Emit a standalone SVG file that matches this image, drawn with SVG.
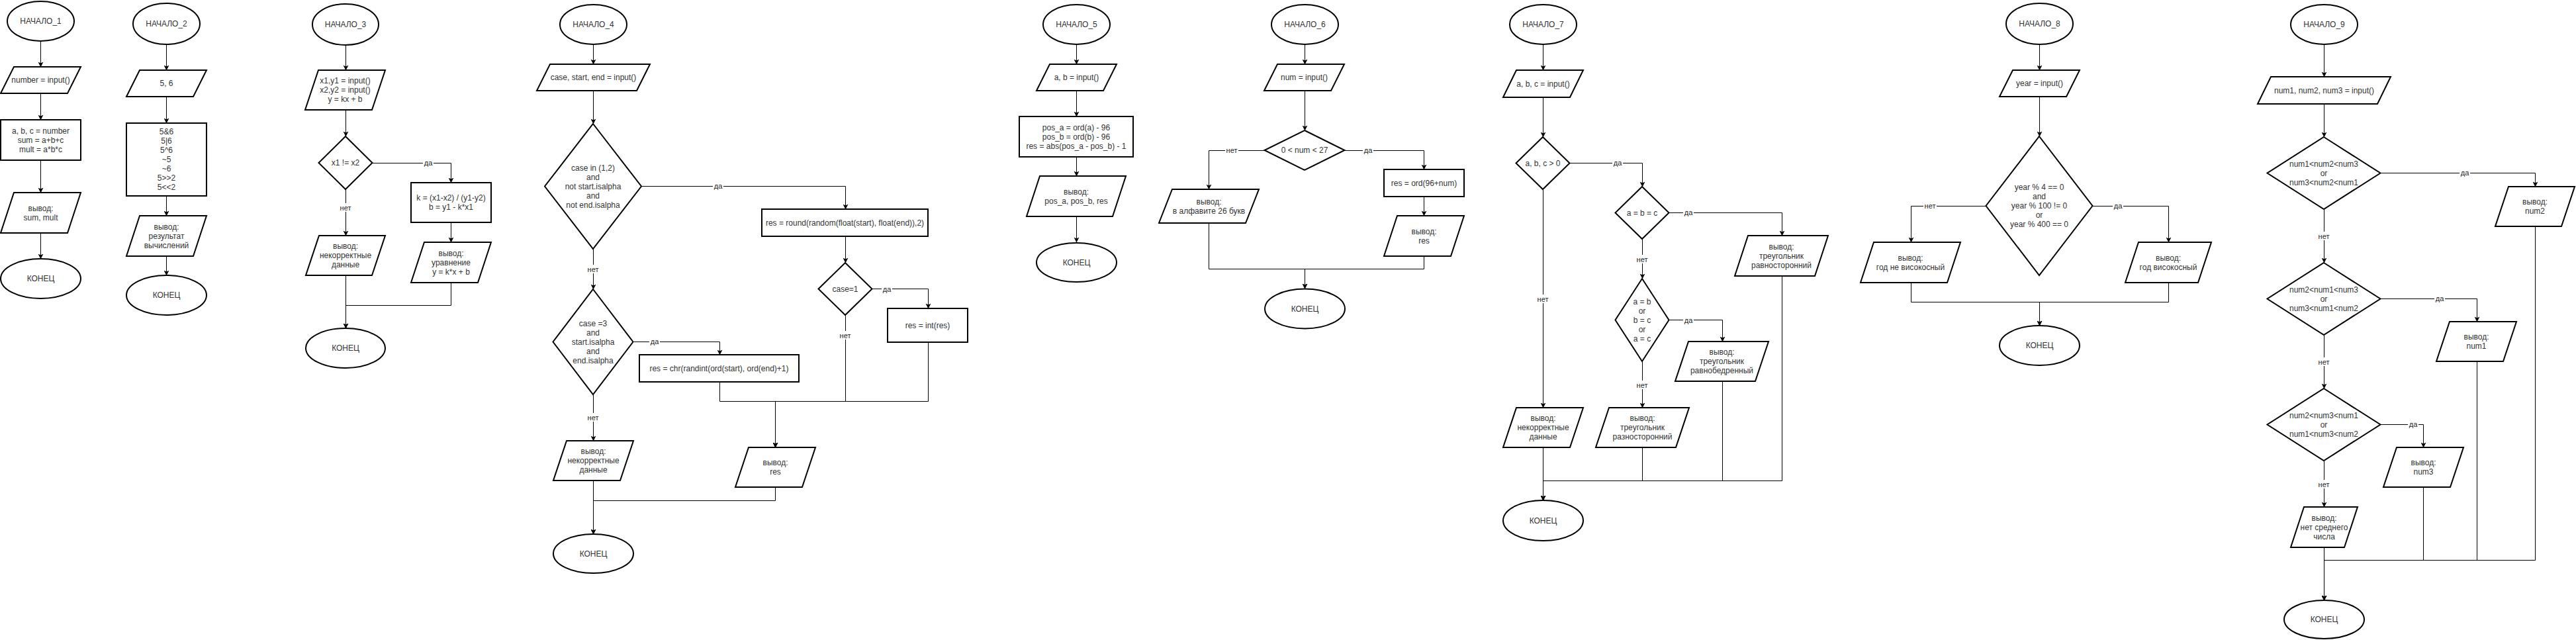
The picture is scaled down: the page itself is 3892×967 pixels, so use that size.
<svg xmlns="http://www.w3.org/2000/svg" width="3892" height="967" viewBox="0 0 3892 967">
<defs>
<style>
.s{fill:#fff;stroke:#000;stroke-width:2}
.t{font-family:"Liberation Sans",Arial,Helvetica,sans-serif;font-size:12px;fill:#333;text-anchor:middle}
.e{fill:none;stroke:#000;stroke-width:1;marker-end:url(#a)}
.bg{fill:#fff}
.lt{font-family:"Liberation Sans",Arial,Helvetica,sans-serif;font-size:11px;fill:#222;text-anchor:middle}
</style>
<marker id="a" viewBox="0 0 10 10" refX="10" refY="5" markerWidth="8" markerHeight="8" markerUnits="userSpaceOnUse" orient="auto"><path d="M0,0 L10,5 L0,10 L2.5,5 Z" fill="#000"/></marker>
</defs>
<rect width="3892" height="967" fill="#fff"/>

<g id="connectors">
<g transform="translate(0.5,0.5)">
<path class="e" d="M61,62V101"/><path class="e" d="M61,141V181"/><path class="e" d="M61,242V291"/><path class="e" d="M61,352V391"/>
<path class="e" d="M251,67V106"/><path class="e" d="M251,146V186"/><path class="e" d="M251,296V326"/><path class="e" d="M251,387V416"/>
<path class="e" d="M522,68V106"/><path class="e" d="M522,166V206"/><path class="e" d="M562,246H681V276"/><path class="e" d="M681,336V366"/><path class="e" d="M522,286V356"/><path class="e" d="M681,427V461H522V496"/><path class="e" d="M522,416V496"/>
<path class="e" d="M896,67V97"/><path class="e" d="M896,137V187"/><path class="e" d="M969,281H1277V316"/><path class="e" d="M1277,357V397"/><path class="e" d="M1317,436H1402V466"/><path class="e" d="M1277,476V606H1171V676"/><path class="e" d="M1402,517V606H1171V676"/><path class="e" d="M1087,577V606H1171V676"/><path class="e" d="M896,376V437"/><path class="e" d="M957,516H1087V536"/><path class="e" d="M896,596V666"/><path class="e" d="M1171,736V756H896V807"/><path class="e" d="M896,726V807"/>
<path class="e" d="M1626,67V97"/><path class="e" d="M1626,137V176"/><path class="e" d="M1626,237V266"/><path class="e" d="M1626,327V366"/>
<path class="e" d="M1971,67V97"/><path class="e" d="M1971,137V197"/><path class="e" d="M1910,227H1826V286"/><path class="e" d="M2031,227H2151V256"/><path class="e" d="M2151,297V326"/><path class="e" d="M1826,337V406H1971V436"/><path class="e" d="M2151,387V406H1971V436"/>
<path class="e" d="M2331,67V106"/><path class="e" d="M2331,147V207"/><path class="e" d="M2371,246H2481V282"/><path class="e" d="M2521,321H2692V356"/><path class="e" d="M2481,361V421"/><path class="e" d="M2521,483H2602V516"/><path class="e" d="M2481,546V616"/><path class="e" d="M2331,286V616"/><path class="e" d="M2481,676V726H2331V756"/><path class="e" d="M2602,576V726H2331V756"/><path class="e" d="M2692,417V726H2331V756"/><path class="e" d="M2331,676V756"/>
<path class="e" d="M3081,67V106"/><path class="e" d="M3081,146V206"/><path class="e" d="M3000,311H2887V366"/><path class="e" d="M3161,311H3276V366"/><path class="e" d="M2887,427V456H3081V492"/><path class="e" d="M3276,427V456H3081V492"/>
<path class="e" d="M3511,67V116"/><path class="e" d="M3511,157V207"/><path class="e" d="M3596,261H3830V282"/><path class="e" d="M3511,316V397"/><path class="e" d="M3596,451H3742V486"/><path class="e" d="M3511,506V587"/><path class="e" d="M3596,641H3661V676"/><path class="e" d="M3511,696V766"/><path class="e" d="M3661,736V846H3511V907"/><path class="e" d="M3742,546V846H3511V907"/><path class="e" d="M3830,342V846H3511V907"/><path class="e" d="M3511,827V907"/>
</g>
<g id="labels">
<rect class="bg" x="639" y="239" width="16" height="13"/><text class="lt" x="647" y="250">да</text>
<rect class="bg" x="512" y="307" width="20" height="13"/><text class="lt" x="522" y="318">нет</text>
<rect class="bg" x="1077" y="274" width="16" height="13"/><text class="lt" x="1085" y="285">да</text>
<rect class="bg" x="1332" y="430" width="16" height="13"/><text class="lt" x="1340" y="441">да</text>
<rect class="bg" x="1267" y="500" width="20" height="13"/><text class="lt" x="1277" y="511">нет</text>
<rect class="bg" x="886" y="400" width="20" height="13"/><text class="lt" x="896" y="411">нет</text>
<rect class="bg" x="981" y="509" width="16" height="13"/><text class="lt" x="989" y="520">да</text>
<rect class="bg" x="886" y="624" width="20" height="13"/><text class="lt" x="896" y="635">нет</text>
<rect class="bg" x="1851" y="220" width="20" height="13"/><text class="lt" x="1861" y="231">нет</text>
<rect class="bg" x="2059" y="220" width="16" height="13"/><text class="lt" x="2067" y="231">да</text>
<rect class="bg" x="2436" y="239" width="16" height="13"/><text class="lt" x="2444" y="250">да</text>
<rect class="bg" x="2543" y="314" width="16" height="13"/><text class="lt" x="2551" y="325">да</text>
<rect class="bg" x="2471" y="385" width="20" height="13"/><text class="lt" x="2481" y="396">нет</text>
<rect class="bg" x="2543" y="477" width="16" height="13"/><text class="lt" x="2551" y="488">да</text>
<rect class="bg" x="2471" y="575" width="20" height="13"/><text class="lt" x="2481" y="586">нет</text>
<rect class="bg" x="2321" y="445" width="20" height="13"/><text class="lt" x="2331" y="456">нет</text>
<rect class="bg" x="2906" y="304" width="20" height="13"/><text class="lt" x="2916" y="315">нет</text>
<rect class="bg" x="3192" y="304" width="16" height="13"/><text class="lt" x="3200" y="315">да</text>
<rect class="bg" x="3716" y="254" width="16" height="13"/><text class="lt" x="3724" y="265">да</text>
<rect class="bg" x="3501" y="350" width="20" height="13"/><text class="lt" x="3511" y="361">нет</text>
<rect class="bg" x="3678" y="444" width="16" height="13"/><text class="lt" x="3686" y="455">да</text>
<rect class="bg" x="3501" y="540" width="20" height="13"/><text class="lt" x="3511" y="551">нет</text>
<rect class="bg" x="3638" y="634" width="16" height="13"/><text class="lt" x="3646" y="645">да</text>
<rect class="bg" x="3501" y="725" width="20" height="13"/><text class="lt" x="3511" y="736">нет</text>
</g>
</g>

<!-- Flowchart 1 -->
<g id="f1_start"><ellipse class="s" cx="61.5" cy="32" rx="50.5" ry="30"/><text class="t" x="61.5" y="36">НАЧАЛО_1</text></g>
<g id="f1_input"><polygon class="s" points="21,101 122,101 102,141 1,141"/><text class="t" x="61.5" y="125">number = input()</text></g>
<g id="f1_calc"><rect class="s" x="1" y="181" width="121" height="61"/><text class="t" x="61.5" y="201.5"><tspan x="61.5">a, b, c = number</tspan><tspan x="61.5" dy="14">sum = a+b+c</tspan><tspan x="61.5" dy="14">mult = a*b*c</tspan></text></g>
<g id="f1_output"><polygon class="s" points="21,291 122,291 102,352 1,352"/><text class="t" x="61.5" y="318.5"><tspan x="61.5">вывод:</tspan><tspan x="61.5" dy="14">sum, mult</tspan></text></g>
<g id="f1_end"><ellipse class="s" cx="61.5" cy="421" rx="60.5" ry="30"/><text class="t" x="61.5" y="425">КОНЕЦ</text></g>

<!-- Flowchart 2 -->
<g id="f2_start"><ellipse class="s" cx="251.5" cy="36" rx="50.5" ry="31"/><text class="t" x="251.5" y="40">НАЧАЛО_2</text></g>
<g id="f2_input"><polygon class="s" points="211,106 312,106 292,146 191,146"/><text class="t" x="251.5" y="130">5, 6</text></g>
<g id="f2_calc"><rect class="s" x="191" y="186" width="121" height="110"/><text class="t" x="251.5" y="203"><tspan x="251.5">5&amp;6</tspan><tspan x="251.5" dy="14">5|6</tspan><tspan x="251.5" dy="14">5^6</tspan><tspan x="251.5" dy="14">~5</tspan><tspan x="251.5" dy="14">~6</tspan><tspan x="251.5" dy="14">5&gt;&gt;2</tspan><tspan x="251.5" dy="14">5&lt;&lt;2</tspan></text></g>
<g id="f2_output"><polygon class="s" points="211,326 312,326 292,387 191,387"/><text class="t" x="251.5" y="346.5"><tspan x="251.5">вывод:</tspan><tspan x="251.5" dy="14">результат</tspan><tspan x="251.5" dy="14">вычислений</tspan></text></g>
<g id="f2_end"><ellipse class="s" cx="251.5" cy="446" rx="60.5" ry="30"/><text class="t" x="251.5" y="450">КОНЕЦ</text></g>

<!-- Flowchart 3 -->
<g id="f3_start"><ellipse class="s" cx="522" cy="37" rx="50" ry="31"/><text class="t" x="522" y="41">НАЧАЛО_3</text></g>
<g id="f3_input"><polygon class="s" points="481,106 582,106 562,166 461,166"/><text class="t" x="521.5" y="126"><tspan x="521.5">x1,y1 = input()</tspan><tspan x="521.5" dy="14">x2,y2 = input()</tspan><tspan x="521.5" dy="14">y = kx + b</tspan></text></g>
<g id="f3_check"><polygon class="s" points="522,206 562.5,246 522,286 481.5,246"/><text class="t" x="522" y="250">x1 != x2</text></g>
<g id="f3_calc"><rect class="s" x="621" y="276" width="121" height="60"/><text class="t" x="681.5" y="303"><tspan x="681.5">k = (x1-x2) / (y1-y2)</tspan><tspan x="681.5" dy="14">b = y1 - k*x1</tspan></text></g>
<g id="f3_out_eq"><polygon class="s" points="641,366 742,366 722,427 621,427"/><text class="t" x="681.5" y="386.5"><tspan x="681.5">вывод:</tspan><tspan x="681.5" dy="14">уравнение</tspan><tspan x="681.5" dy="14">y = k*x + b</tspan></text></g>
<g id="f3_out_bad"><polygon class="s" points="482,356 582,356 562,416 462,416"/><text class="t" x="522" y="376"><tspan x="522">вывод:</tspan><tspan x="522" dy="14">некорректные</tspan><tspan x="522" dy="14">данные</tspan></text></g>
<g id="f3_end"><ellipse class="s" cx="522" cy="526" rx="60" ry="30"/><text class="t" x="522" y="530">КОНЕЦ</text></g>

<!-- Flowchart 4 -->
<g id="f4_start"><ellipse class="s" cx="896.5" cy="37" rx="50.5" ry="30"/><text class="t" x="896.5" y="41">НАЧАЛО_4</text></g>
<g id="f4_input"><polygon class="s" points="831,97 982,97 962,137 811,137"/><text class="t" x="896.5" y="121">case, start, end = input()</text></g>
<g id="f4_check1"><polygon class="s" points="896,187 969,281.5 896,376 823,281.5"/><text class="t" x="896" y="257.5"><tspan x="896">case in (1,2)</tspan><tspan x="896" dy="14">and</tspan><tspan x="896" dy="14">not start.isalpha</tspan><tspan x="896" dy="14">and</tspan><tspan x="896" dy="14">not end.isalpha</tspan></text></g>
<g id="f4_round"><rect class="s" x="1151" y="316" width="251" height="41"/><text class="t" x="1276.5" y="340.5">res = round(random(float(start), float(end)),2)</text></g>
<g id="f4_case1"><polygon class="s" points="1277,397 1317.5,436.5 1277,476 1236.5,436.5"/><text class="t" x="1277" y="440.5">case=1</text></g>
<g id="f4_int"><rect class="s" x="1341" y="466" width="121" height="51"/><text class="t" x="1401.5" y="495.5">res = int(res)</text></g>
<g id="f4_check2"><polygon class="s" points="896,437 956.5,516.5 896,596 835.5,516.5"/><text class="t" x="896" y="492.5"><tspan x="896">case =3</tspan><tspan x="896" dy="14">and</tspan><tspan x="896" dy="14">start.isalpha</tspan><tspan x="896" dy="14">and</tspan><tspan x="896" dy="14">end.isalpha</tspan></text></g>
<g id="f4_chr"><rect class="s" x="966" y="536" width="241" height="41"/><text class="t" x="1086.5" y="560.5">res = chr(randint(ord(start), ord(end)+1)</text></g>
<g id="f4_out_res"><polygon class="s" points="1131,676 1232,676 1212,736 1111,736"/><text class="t" x="1171.5" y="703"><tspan x="1171.5">вывод:</tspan><tspan x="1171.5" dy="14">res</tspan></text></g>
<g id="f4_out_bad"><polygon class="s" points="856,666 957,666 937,726 836,726"/><text class="t" x="896.5" y="686"><tspan x="896.5">вывод:</tspan><tspan x="896.5" dy="14">некорректные</tspan><tspan x="896.5" dy="14">данные</tspan></text></g>
<g id="f4_end"><ellipse class="s" cx="896.5" cy="836.5" rx="60.5" ry="29.5"/><text class="t" x="896.5" y="840.5">КОНЕЦ</text></g>

<!-- Flowchart 5 -->
<g id="f5_start"><ellipse class="s" cx="1626.5" cy="37" rx="50.5" ry="30"/><text class="t" x="1626.5" y="41">НАЧАЛО_5</text></g>
<g id="f5_input"><polygon class="s" points="1586,97 1687,97 1667,137 1566,137"/><text class="t" x="1626.5" y="121">a, b = input()</text></g>
<g id="f5_calc"><rect class="s" x="1540" y="176" width="172" height="61"/><text class="t" x="1626" y="196.5"><tspan x="1626">pos_a = ord(a) - 96</tspan><tspan x="1626" dy="14">pos_b = ord(b) - 96</tspan><tspan x="1626" dy="14">res = abs(pos_a - pos_b) - 1</tspan></text></g>
<g id="f5_output"><polygon class="s" points="1571,266 1701,266 1681,327 1551,327"/><text class="t" x="1626" y="293.5"><tspan x="1626">вывод:</tspan><tspan x="1626" dy="14">pos_a, pos_b, res</tspan></text></g>
<g id="f5_end"><ellipse class="s" cx="1626.5" cy="396.5" rx="60.5" ry="29.5"/><text class="t" x="1626.5" y="400.5">КОНЕЦ</text></g>

<!-- Flowchart 6 -->
<g id="f6_start"><ellipse class="s" cx="1971.5" cy="37" rx="50.5" ry="30"/><text class="t" x="1971.5" y="41">НАЧАЛО_6</text></g>
<g id="f6_input"><polygon class="s" points="1930,97 2031,97 2011,137 1910,137"/><text class="t" x="1970.5" y="121">num = input()</text></g>
<g id="f6_check"><polygon class="s" points="1971,197 2031.5,227 1971,257 1910.5,227"/><text class="t" x="1971" y="231">0 &lt; num &lt; 27</text></g>
<g id="f6_out_bad"><polygon class="s" points="1771,286 1902,286 1882,337 1751,337"/><text class="t" x="1826.5" y="308.5"><tspan x="1826.5">вывод:</tspan><tspan x="1826.5" dy="14">в алфавите 26 букв</tspan></text></g>
<g id="f6_calc"><rect class="s" x="2091" y="256" width="121" height="41"/><text class="t" x="2151.5" y="280.5">res = ord(96+num)</text></g>
<g id="f6_out_res"><polygon class="s" points="2111,326 2212,326 2192,387 2091,387"/><text class="t" x="2151.5" y="353.5"><tspan x="2151.5">вывод:</tspan><tspan x="2151.5" dy="14">res</tspan></text></g>
<g id="f6_end"><ellipse class="s" cx="1971.5" cy="466.5" rx="60.5" ry="30"/><text class="t" x="1971.5" y="470.5">КОНЕЦ</text></g>

<!-- Flowchart 7 -->
<g id="f7_start"><ellipse class="s" cx="2331.5" cy="37" rx="50.5" ry="30"/><text class="t" x="2331.5" y="41">НАЧАЛО_7</text></g>
<g id="f7_input"><polygon class="s" points="2291,106 2392,106 2372,147 2271,147"/><text class="t" x="2331.5" y="130.5">a, b, c = input()</text></g>
<g id="f7_check1"><polygon class="s" points="2331,207 2371.5,246.5 2331,286 2290.5,246.5"/><text class="t" x="2331" y="250.5">a, b, c &gt; 0</text></g>
<g id="f7_check2"><polygon class="s" points="2481,282 2521.5,321.5 2481,361 2440.5,321.5"/><text class="t" x="2481" y="325.5">a = b = c</text></g>
<g id="f7_out_eq"><polygon class="s" points="2641,356 2762,356 2742,417 2621,417"/><text class="t" x="2691.5" y="376.5"><tspan x="2691.5">вывод:</tspan><tspan x="2691.5" dy="14">треугольник</tspan><tspan x="2691.5" dy="14">равносторонний</tspan></text></g>
<g id="f7_check3"><polygon class="s" points="2481,421 2521.5,483.5 2481,546 2440.5,483.5"/><text class="t" x="2481" y="459.5"><tspan x="2481">a = b</tspan><tspan x="2481" dy="14">or</tspan><tspan x="2481" dy="14">b = c</tspan><tspan x="2481" dy="14">or</tspan><tspan x="2481" dy="14">a = c</tspan></text></g>
<g id="f7_out_iso"><polygon class="s" points="2551,516 2672,516 2652,576 2531,576"/><text class="t" x="2601.5" y="536"><tspan x="2601.5">вывод:</tspan><tspan x="2601.5" dy="14">треугольник</tspan><tspan x="2601.5" dy="14">равнобедренный</tspan></text></g>
<g id="f7_out_scal"><polygon class="s" points="2431,616 2552,616 2532,676 2411,676"/><text class="t" x="2481.5" y="636"><tspan x="2481.5">вывод:</tspan><tspan x="2481.5" dy="14">треугольник</tspan><tspan x="2481.5" dy="14">разносторонний</tspan></text></g>
<g id="f7_out_bad"><polygon class="s" points="2291,616 2392,616 2372,676 2271,676"/><text class="t" x="2331.5" y="636"><tspan x="2331.5">вывод:</tspan><tspan x="2331.5" dy="14">некорректные</tspan><tspan x="2331.5" dy="14">данные</tspan></text></g>
<g id="f7_end"><ellipse class="s" cx="2331.5" cy="786.5" rx="60.5" ry="30.5"/><text class="t" x="2331.5" y="790.5">КОНЕЦ</text></g>

<!-- Flowchart 8 -->
<g id="f8_start"><ellipse class="s" cx="3081.5" cy="36" rx="50.5" ry="31"/><text class="t" x="3081.5" y="40">НАЧАЛО_8</text></g>
<g id="f8_input"><polygon class="s" points="3041,106 3142,106 3122,146 3021,146"/><text class="t" x="3081.5" y="130">year = input()</text></g>
<g id="f8_check"><polygon class="s" points="3081,206 3161.5,311 3081,416 3000.5,311"/><text class="t" x="3081" y="287"><tspan x="3081">year % 4 == 0</tspan><tspan x="3081" dy="14">and</tspan><tspan x="3081" dy="14">year % 100 != 0</tspan><tspan x="3081" dy="14">or</tspan><tspan x="3081" dy="14">year % 400 == 0</tspan></text></g>
<g id="f8_out_no"><polygon class="s" points="2831,366 2962,366 2942,427 2811,427"/><text class="t" x="2886.5" y="393.5"><tspan x="2886.5">вывод:</tspan><tspan x="2886.5" dy="14">год не високосный</tspan></text></g>
<g id="f8_out_yes"><polygon class="s" points="3231,366 3341,366 3321,427 3211,427"/><text class="t" x="3276" y="393.5"><tspan x="3276">вывод:</tspan><tspan x="3276" dy="14">год високосный</tspan></text></g>
<g id="f8_end"><ellipse class="s" cx="3081.5" cy="522" rx="60.5" ry="30"/><text class="t" x="3081.5" y="526">КОНЕЦ</text></g>

<!-- Flowchart 9 -->
<g id="f9_start"><ellipse class="s" cx="3511.5" cy="37" rx="50.5" ry="30"/><text class="t" x="3511.5" y="41">НАЧАЛО_9</text></g>
<g id="f9_input"><polygon class="s" points="3431,116 3612,116 3592,157 3411,157"/><text class="t" x="3511.5" y="140.5">num1, num2, num3 = input()</text></g>
<g id="f9_check1"><polygon class="s" points="3511,207 3596.5,261.5 3511,316 3425.5,261.5"/><text class="t" x="3511" y="251.5"><tspan x="3511">num1&lt;num2&lt;num3</tspan><tspan x="3511" dy="14">or</tspan><tspan x="3511" dy="14">num3&lt;num2&lt;num1</tspan></text></g>
<g id="f9_out_num2"><polygon class="s" points="3790,282 3890,282 3870,342 3770,342"/><text class="t" x="3830" y="309"><tspan x="3830">вывод:</tspan><tspan x="3830" dy="14">num2</tspan></text></g>
<g id="f9_check2"><polygon class="s" points="3511,397 3596.5,451.5 3511,506 3425.5,451.5"/><text class="t" x="3511" y="441.5"><tspan x="3511">num2&lt;num1&lt;num3</tspan><tspan x="3511" dy="14">or</tspan><tspan x="3511" dy="14">num3&lt;num1&lt;num2</tspan></text></g>
<g id="f9_out_num1"><polygon class="s" points="3701,486 3802,486 3782,546 3681,546"/><text class="t" x="3741.5" y="513"><tspan x="3741.5">вывод:</tspan><tspan x="3741.5" dy="14">num1</tspan></text></g>
<g id="f9_check3"><polygon class="s" points="3511,587 3596.5,641.5 3511,696 3425.5,641.5"/><text class="t" x="3511" y="631.5"><tspan x="3511">num2&lt;num3&lt;num1</tspan><tspan x="3511" dy="14">or</tspan><tspan x="3511" dy="14">num1&lt;num3&lt;num2</tspan></text></g>
<g id="f9_out_num3"><polygon class="s" points="3621,676 3722,676 3702,736 3601,736"/><text class="t" x="3661.5" y="703"><tspan x="3661.5">вывод:</tspan><tspan x="3661.5" dy="14">num3</tspan></text></g>
<g id="f9_out_none"><polygon class="s" points="3481,766 3562,766 3542,827 3461,827"/><text class="t" x="3511.5" y="786.5"><tspan x="3511.5">вывод:</tspan><tspan x="3511.5" dy="14">нет среднего</tspan><tspan x="3511.5" dy="14">числа</tspan></text></g>
<g id="f9_end"><ellipse class="s" cx="3511.5" cy="936" rx="60.5" ry="29"/><text class="t" x="3511.5" y="940">КОНЕЦ</text></g>
</svg>
